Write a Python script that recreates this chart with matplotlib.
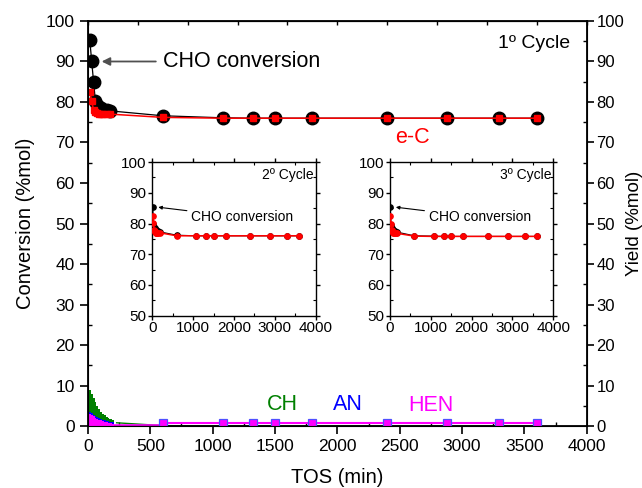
import numpy as np
import matplotlib
matplotlib.use("Agg")
import matplotlib.pyplot as plt
from matplotlib.ticker import MultipleLocator, NullFormatter

plt.rcParams["font.family"] = ["Liberation Sans", "DejaVu Sans"]

# ── data ──────────────────────────────────────
t_main = [15, 30, 45, 60, 75, 90, 105, 120, 150, 180,
          600, 1080, 1320, 1500, 1800, 2400, 2880, 3300, 3600]
cho_1 = [95.2, 90.0, 85.0, 80.2, 79.3, 78.8, 78.4, 78.1, 77.9, 77.8,
         76.6, 76.1, 76.0, 76.0, 76.0, 76.0, 76.0, 76.0, 76.0]
ec_1 = [82.4, 80.3, 78.0, 77.5, 77.3, 77.1, 77.0, 77.0, 77.0, 77.0,
        76.2, 76.0, 76.0, 76.0, 76.0, 76.0, 76.0, 76.0, 76.0]

cho_2 = [85.5, 80.0, 79.0, 78.5, 78.2, 78.0, 77.8, 77.6, 77.5, 77.3,
         76.2, 76.0, 76.0, 76.0, 76.0, 76.0, 76.0, 76.0, 76.0]
ec_2 = [82.5, 80.2, 78.0, 77.5, 77.2, 77.0, 77.0, 77.0, 77.0, 77.0,
        76.0, 76.0, 76.0, 76.0, 76.0, 76.0, 76.0, 76.0, 76.0]

cho_3 = [85.5, 79.5, 78.5, 78.2, 78.0, 77.8, 77.6, 77.5, 77.3, 77.2,
         76.0, 75.9, 75.8, 75.8, 75.8, 75.8, 75.8, 75.8, 75.8]
ec_3 = [82.3, 80.0, 78.0, 77.4, 77.1, 77.0, 77.0, 76.9, 76.9, 76.8,
        75.9, 75.8, 75.8, 75.8, 75.8, 75.8, 75.8, 75.8, 75.8]

# products, first hours (dense sampling)
t_early = [5, 15, 30, 45, 60, 75, 90, 105, 120, 135, 150, 165, 180, 210]
ch_early = [8.9, 8.9, 8.0, 7.0, 6.0, 5.0, 4.2, 3.5, 3.0, 2.6, 2.2, 2.0, 1.8, 1.6]
an_early = [3.6, 3.4, 3.1, 2.8, 2.5, 2.2, 2.0, 1.8, 1.6, 1.4, 1.3, 1.2, 1.1, 1.0]
hen_early = [3.1, 3.0, 2.7, 2.4, 2.1, 1.8, 1.6, 1.4, 1.2, 1.0, 0.9, 0.8, 0.7, 0.6]

t_late = [230, 600, 1080, 1320, 1500, 1800, 2400, 2880, 3300, 3600]
ch_late = [0.8, 0.1, 0.0, 0.0, 0.0, 0.0, 0.0, 0.0, 0.0, 0.0]
t_late_m = [600, 1080, 1320, 1500, 1800, 2400, 2880, 3300, 3600]
hen_late = [0.7, 0.7, 0.7, 0.7, 0.7, 0.7, 0.7, 0.7, 0.7]

GREEN = "#008000"
BLUE = "#0000ff"
MAGENTA = "#ff00ff"
RED = "#ff0000"

# ── main plot ─────────────────────────────────
fig = plt.figure(figsize=(6.42, 4.88), dpi=100)
ax = fig.add_axes([0.137, 0.127, 0.777, 0.830])

# product areas (green under blue under magenta)
ax.fill_between(t_early, ch_early, step="mid", color=GREEN, lw=0, zorder=2)
ax.plot(t_late, ch_late, color=GREEN, lw=1, zorder=2)
ax.fill_between(t_early, an_early, step="mid", color=BLUE, lw=0, zorder=3)
ax.fill_between(t_early, hen_early, step="mid", color=MAGENTA, lw=0, zorder=4)
ax.plot([200, 600], [0.2, 0.2], color=MAGENTA, lw=1.2, zorder=4)
ax.plot(t_late_m, hen_late, color=MAGENTA, lw=1.5, marker="s", ms=6,
        mfc=MAGENTA, mec="#5050ff", mew=0.9, zorder=5)

ax.plot(t_main, cho_1, color="black", lw=0.9, marker="o", ms=9,
        mfc="black", mec="black", zorder=6)
ax.plot(t_main, ec_1, color=RED, lw=1.1, marker="s", ms=5,
        mfc=RED, mec=RED, zorder=7)

ax.set_xlim(0, 4000)
ax.set_ylim(0, 100)
ax.xaxis.set_major_locator(MultipleLocator(500))
ax.xaxis.set_minor_locator(MultipleLocator(250))
ax.yaxis.set_major_locator(MultipleLocator(10))
ax.yaxis.set_minor_locator(MultipleLocator(5))
ax.tick_params(which="major", direction="out", length=6, width=1.2, labelsize=12.5)
ax.tick_params(which="minor", direction="in", length=3, width=1)
for s in ax.spines.values():
    s.set_linewidth(1.3)
ax.set_xlabel("TOS (min)", fontsize=14.5, labelpad=10)
ax.set_ylabel("Conversion (%mol)", fontsize=14.5, labelpad=8)

# top axis ticks (no labels)
top = ax.secondary_xaxis("top")
top.xaxis.set_major_locator(MultipleLocator(400))
top.xaxis.set_major_formatter(NullFormatter())
top.tick_params(direction="in", length=3, width=1)

# right axis: yield
ax2 = ax.twinx()
ax2.set_ylim(0, 100)
ax2.yaxis.set_major_locator(MultipleLocator(10))
ax2.yaxis.set_minor_locator(MultipleLocator(5))
ax2.tick_params(which="major", direction="out", length=5, width=1.2,
                labelsize=12, pad=2)
ax2.tick_params(which="minor", direction="in", length=3, width=1)
ax2.set_ylabel("Yield (%mol)", fontsize=13.5, labelpad=1)

ax.annotate("CHO conversion", xy=(110, 90), xytext=(600, 90),
            fontsize=15.5, va="center", ha="left",
            arrowprops=dict(arrowstyle="-|>", color="#505050", lw=1.3,
                            mutation_scale=12, shrinkA=3, shrinkB=0))
ax.text(3870, 94.5, "1º Cycle", fontsize=14, ha="right", va="center")
ax.text(2600, 71.2, "e-C", fontsize=15.5, color=RED, ha="center", va="center")
ax.text(1560, 5.3, "CH", fontsize=15.5, color=GREEN, ha="center", va="center")
ax.text(2085, 5.3, "AN", fontsize=15.5, color=BLUE, ha="center", va="center")
ax.text(2750, 5.0, "HEN", fontsize=15.5, color=MAGENTA, ha="center", va="center")


# ── insets ────────────────────────────────────
def draw_inset(rect, cho, ec, label):
    ins = fig.add_axes(rect)
    ins.plot(t_main, cho, color="black", lw=0.8, marker="o", ms=3.8,
             mfc="black", mec="black", zorder=3)
    ins.plot(t_main, ec, color=RED, lw=1.1, marker="o", ms=3.8,
             mfc=RED, mec=RED, zorder=4)
    ins.set_xlim(0, 4000)
    ins.set_ylim(50, 100)
    ins.xaxis.set_major_locator(MultipleLocator(1000))
    ins.xaxis.set_minor_locator(MultipleLocator(500))
    ins.yaxis.set_major_locator(MultipleLocator(10))
    ins.yaxis.set_minor_locator(MultipleLocator(5))
    ins.tick_params(which="major", direction="out", length=3, width=1,
                    labelsize=11, pad=1)
    ins.tick_params(which="minor", direction="in", length=2, width=0.8)
    ins.tick_params(which="both", top=True, right=True)
    ins.tick_params(which="major", axis="both", labeltop=False, labelright=False)
    for s in ins.spines.values():
        s.set_linewidth(1)
    ins.annotate("CHO conversion", xy=(150, 85.3), xytext=(950, 82),
                 fontsize=10, va="center", ha="left",
                 arrowprops=dict(arrowstyle="-|>", color="black", lw=0.8,
                                 mutation_scale=5, shrinkA=1, shrinkB=0))
    ins.text(3950, 95.8, label, fontsize=10, ha="right", va="center")
    return ins


draw_inset([0.237, 0.353, 0.255, 0.315], cho_2, ec_2, "2º Cycle")
draw_inset([0.607, 0.353, 0.255, 0.315], cho_3, ec_3, "3º Cycle")

fig.savefig("out.png", dpi=100)
